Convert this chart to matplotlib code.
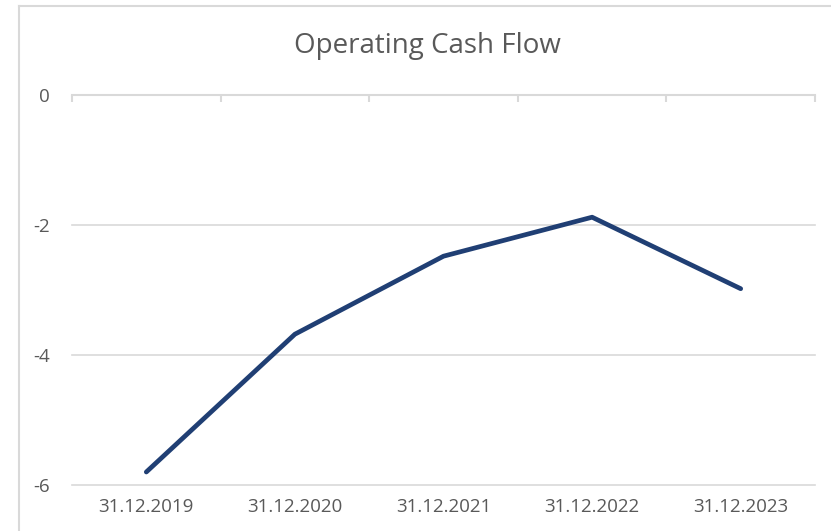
import matplotlib
matplotlib.use("Agg")
import matplotlib.pyplot as plt
from matplotlib.lines import Line2D

categories = ["31.12.2019", "31.12.2020", "31.12.2021", "31.12.2022", "31.12.2023"]
values = [-5.8, -3.68, -2.48, -1.88, -2.98]
yticks = [0, -2, -4, -6]
title = "Operating Cash Flow"

plt.rcParams['font.family'] = ['Open Sans', 'DejaVu Sans']
W, H = 831, 531
fig = plt.figure(figsize=(W/100, H/100), dpi=100)
fig.patch.set_facecolor("white")

# outer chart border (partially cropped)
fig.add_artist(Line2D([19/W, 19/W], [0, 1-6/H], transform=fig.transFigure, color="#d9d9d9", lw=1.5))
fig.add_artist(Line2D([19/W, 1], [1-6/H, 1-6/H], transform=fig.transFigure, color="#d9d9d9", lw=1.5))

ax = fig.add_axes([72/W, 1-485/H, (815-72)/W, (485-95)/H])
x = list(range(len(categories)))
ax.plot(x, values, color="#203F74", lw=3.4, solid_capstyle="round", solid_joinstyle="round", zorder=3)
ax.set_xlim(-0.5, len(categories)-0.5)
ax.set_ylim(-6, 0)

for s in ["left", "right", "bottom"]:
    ax.spines[s].set_visible(False)
ax.spines["top"].set_color("#d9d9d9")
ax.spines["top"].set_linewidth(1.5)

for yv in yticks[1:]:
    ax.axhline(yv, color="#d9d9d9", lw=1.2, zorder=1, clip_on=False)

ax.set_yticks(yticks)
ax.set_yticklabels([str(v) for v in yticks])
ax.tick_params(axis="y", length=0, pad=16, labelsize=13.5, labelcolor="#595959")

ax.set_xticks(x)
ax.set_xticklabels(categories)
ax.tick_params(axis="x", which="major", length=0, pad=9, labelsize=13.5, labelcolor="#595959")
ax.set_xticks([i - 0.5 for i in range(len(categories)+1)], minor=True)
ax.tick_params(axis="x", which="minor", top=True, bottom=False, direction="in",
               length=5, width=1.5, color="#d9d9d9")

fig.text(427/W, 1-46/H, title, ha="center", va="center", fontsize=20, color="#595959")

fig.savefig("out.png", dpi=100)
